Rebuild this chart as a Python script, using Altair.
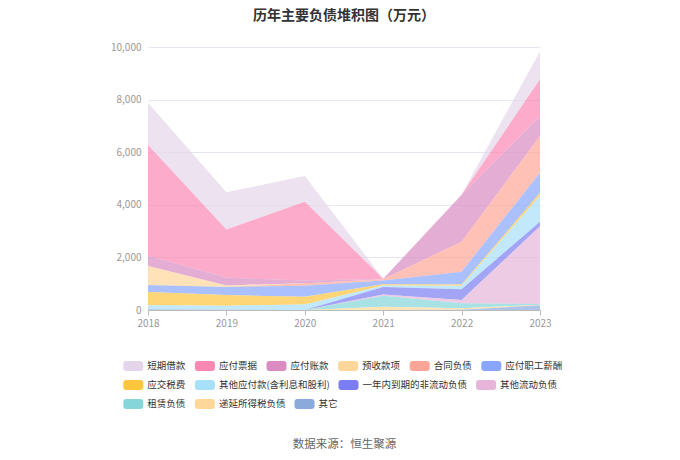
import altair as alt
import pandas as pd

years = [2018, 2019, 2020, 2021, 2022, 2023]

series_names = [
    "短期借款", "应付票据", "应付账款", "预收款项", "合同负债", "应付职工薪酬",
    "应交税费", "其他应付款(含利息和股利)", "一年内到期的非流动负债", "其他流动负债",
    "租赁负债", "递延所得税负债", "其它",
]

duanqi_jiekuan = [1610, 1420, 980, 0, 10, 1060]
yingfu_piaoju = [4210, 1825, 3000, 10, 10, 1400]
yingfu_zhangkuan = [390, 300, 100, 15, 1780, 756]
yushou_kuanxiang = [720, 60, 0, 0, 0, 0]
hetong_fuzhai = [0, 0, 100, 40, 1140, 1400]
zhigong_xinchou = [266, 305, 419, 150, 490, 760]
yingjiao_shuifei = [504, 408, 290, 40, 40, 120]
qita_yingfu = [150, 150, 210, 60, 140, 980]
yinian_daoqi = [0, 0, 0, 290, 400, 180]
qita_liudong = [0, 0, 0, 40, 125, 2950]
zulin_fuzhai = [0, 0, 0, 420, 190, 30]
diyan_suodeshui = [0, 0, 0, 125, 60, 20]
qita = [30, 10, 0, 0, 10, 180]

series_values = [
    duanqi_jiekuan, yingfu_piaoju, yingfu_zhangkuan, yushou_kuanxiang, hetong_fuzhai,
    zhigong_xinchou, yingjiao_shuifei, qita_yingfu, yinian_daoqi, qita_liudong,
    zulin_fuzhai, diyan_suodeshui, qita,
]

colors = [
    "#E5D5EA", "#FB88B3", "#D98BC2", "#FFD699", "#FFA597", "#88A6FF",
    "#FFC53D", "#A8E0FA", "#7B7DF2", "#E7B5DA", "#84D6D8", "#FFD899", "#8BAADC",
]

# legend rows as in the reference (flow layout)
legend_rows = [(0, 6), (6, 10), (10, 13)]

y_ticks = [0, 2000, 4000, 6000, 8000, 10000]

rows = []
n = len(series_names)
for i, (name, vals) in enumerate(zip(series_names, series_values)):
    for yr, v in zip(years, vals):
        rows.append({"year": str(yr), "series": name, "value": v, "ord": n - i})
df = pd.DataFrame(rows)

FONT = "Noto Sans CJK SC"
sym_path = ("M-0.7,-0.5H0.7Q1,-0.5 1,-0.2V0.2Q1,0.5 0.7,0.5H-0.7"
            "Q-1,0.5 -1,0.2V-0.2Q-1,-0.5 -0.7,-0.5Z")

x_axis = alt.Axis(
    labelAngle=0, labelColor="#999999", labelFontSize=10, labelFont=FONT,
    domainColor="#BBBBBB", tickColor="#BBBBBB", tickSize=5, labelPadding=3,
    grid=False,
    title="数据来源：恒生聚源", titleY=134, titleBaseline="middle",
    titleFontSize=11.5, titleFontWeight="normal", titleColor="#666666",
    titleFont=FONT,
)
y_axis = alt.Axis(
    values=y_ticks, format=",.0f", grid=True, gridColor="#E6E6F0",
    domain=False, ticks=False, labelColor="#999999", labelFontSize=10,
    labelFont=FONT, labelPadding=7, title=None,
)

base = alt.Chart(df).transform_stack(
    stack="value",
    groupby=["year"],
    as_=["y0", "y1"],
    sort=[alt.SortField("ord", order="ascending")],
)

layers = []
for r, (a, b) in enumerate(legend_rows):
    names = series_names[a:b]
    cols = colors[a:b]
    layer = base.transform_filter(
        alt.FieldOneOfPredicate(field="series", oneOf=names)
    ).mark_area(opacity=0.7, interpolate="linear").encode(
        x=alt.X("year:O", scale=alt.Scale(type="point", padding=0), axis=x_axis),
        y=alt.Y("y1:Q", scale=alt.Scale(domain=[0, 10000], nice=False), axis=y_axis),
        y2="y0:Q",
        color=alt.Color(
            "series:N",
            scale=alt.Scale(domain=names, range=cols),
            sort=names,
            title=None,
            legend=alt.Legend(
                orient="none", legendX=-24.7, legendY=309 + 19 * r,
                direction="horizontal",
                symbolType=sym_path, symbolSize=400, symbolOpacity=1,
                symbolStrokeWidth=0, labelFontSize=9.5, labelFont=FONT,
                labelColor="#333333", labelOffset=4, columnPadding=8.6,
                padding=0, labelLimit=300,
            ),
        ),
        detail="series:N",
    )
    layers.append(layer)

chart = alt.layer(*layers).resolve_scale(color="independent").resolve_legend(
    color="independent"
).properties(
    width=392,
    height=263,
    autosize="none",
    padding={"left": 140, "top": 39, "right": 132, "bottom": 142},
    title=alt.TitleParams(
        "历年主要负债堆积图（万元）", fontSize=14, fontWeight="bold", color="#333333",
        font=FONT, anchor="middle", frame="group", offset=19,
    ),
).configure_view(stroke=None)

chart.save("out.html", embed_options={"renderer": "svg", "actions": False})
